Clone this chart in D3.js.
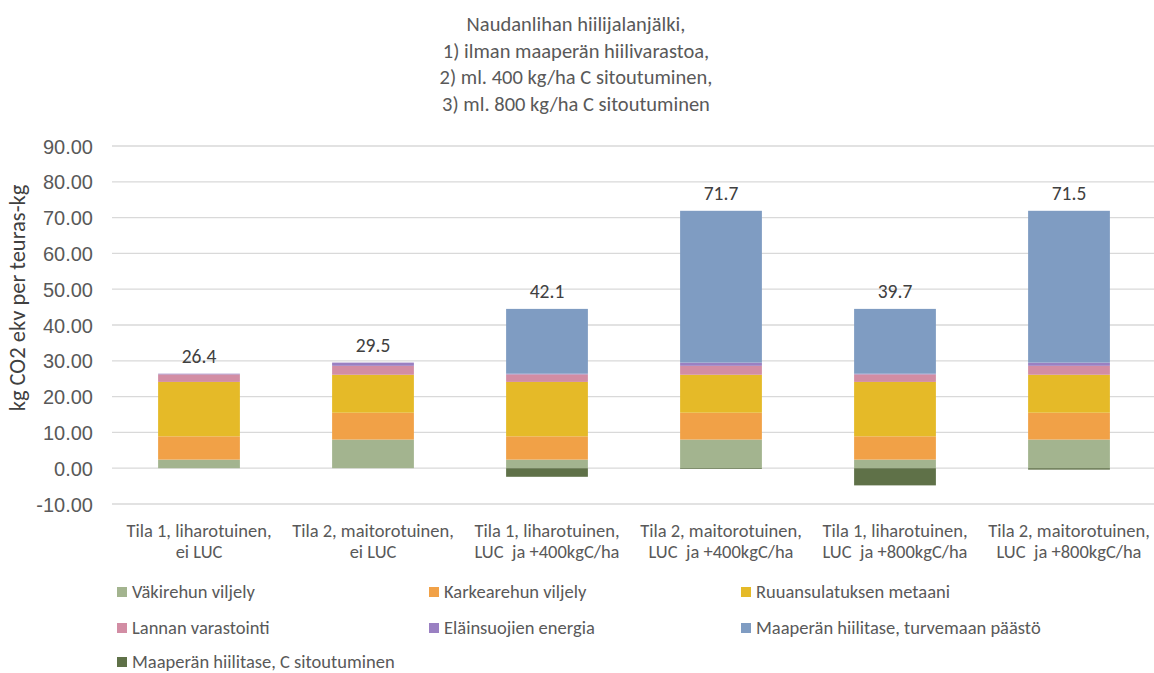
<!DOCTYPE html>
<html>
<head>
<meta charset="utf-8">
<script src="https://cdn.jsdelivr.net/npm/d3@7"></script>
<style>
  body { margin: 0; background: #fff; }
  svg { font-family: Calibri, Carlito, Lato, sans-serif; }
</style>
</head>
<body>
<div id="vis"></div>
<script>
const WIDTH = 1154;
const HEIGHT = 673;

// data
const categories = [
  ["Tila 1, liharotuinen,", "ei LUC"],
  ["Tila 2, maitorotuinen,", "ei LUC"],
  ["Tila 1, liharotuinen,", "LUC  ja +400kgC/ha"],
  ["Tila 2, maitorotuinen,", "LUC  ja +400kgC/ha"],
  ["Tila 1, liharotuinen,", "LUC  ja +800kgC/ha"],
  ["Tila 2, maitorotuinen,", "LUC  ja +800kgC/ha"],
];
const seriesNames = [
  "Väkirehun viljely",
  "Karkearehun viljely",
  "Ruuansulatuksen metaani",
  "Lannan varastointi",
  "Eläinsuojien energia",
  "Maaperän hiilitase, turvemaan päästö",
  "Maaperän hiilitase, C sitoutuminen",
];
const vakirehu = [2.4, 8.0, 2.4, 8.0, 2.4, 8.0];
const karkearehu = [6.5, 7.5, 6.5, 7.5, 6.5, 7.5];
const metaani = [15.2, 10.6, 15.2, 10.6, 15.2, 10.6];
const lanta = [2.1, 2.5, 2.1, 2.5, 2.1, 2.5];
const energia = [0.2, 0.9, 0.2, 0.9, 0.2, 0.9];
const turvemaa = [0, 0, 18.1, 42.4, 18.1, 42.4];
const sitoutuminen = [0, 0, -2.4, -0.2, -4.8, -0.4];
const yTicks = [-10, 0, 10, 20, 30, 40, 50, 60, 70, 80, 90];
const titleLines = [
  "Naudanlihan hiilijalanjälki,",
  "1) ilman maaperän hiilivarastoa,",
  "2) ml. 400 kg/ha C sitoutuminen,",
  "3) ml. 800 kg/ha C sitoutuminen",
];

const colors = ["#A3B48F", "#F1A147", "#E5BA28", "#D28DA4", "#9A80C2", "#7F9CC2", "#5F7148"];
const allSeries = [vakirehu, karkearehu, metaani, lanta, energia, turvemaa, sitoutuminen];

const rows = categories.map((c, i) => {
  const r = { idx: i };
  seriesNames.forEach((s, j) => { r[s] = allSeries[j][i]; });
  return r;
});

const svg = d3.select("#vis").append("svg")
  .attr("width", WIDTH)
  .attr("height", HEIGHT);

const x = d3.scaleBand()
  .domain(d3.range(categories.length))
  .range([112, 1156])
  .paddingInner(0.53)
  .paddingOuter(0.265);

const y = d3.scaleLinear()
  .domain([-10, 90])
  .range([504, 146]);

// gridlines
svg.append("g")
  .selectAll("line")
  .data(yTicks)
  .join("line")
  .attr("x1", 112)
  .attr("x2", WIDTH)
  .attr("y1", d => y(d))
  .attr("y2", d => y(d))
  .attr("stroke", "#D9D9D9")
  .attr("stroke-width", 1.3);

// y axis labels (hyphen minus like Excel)
const yAxis = svg.append("g")
  .attr("transform", "translate(99,0)")
  .call(d3.axisLeft(y).tickValues(yTicks).tickFormat(d => d.toFixed(2)).tickSize(0).tickPadding(6));
yAxis.select(".domain").remove();
yAxis.selectAll("text")
  .attr("font-size", 20)
  .attr("fill", "#595959")
  .attr("font-family", null)
  .attr("dy", "0.35em");

svg.append("text")
  .attr("transform", "translate(25,298) rotate(-90)")
  .attr("text-anchor", "middle")
  .attr("font-size", 22.5)
  .attr("fill", "#404040")
  .text("kg CO2 ekv per teuras-kg");

// stacked bars
const stack = d3.stack()
  .keys(seriesNames)
  .offset(d3.stackOffsetDiverging);
const stacked = stack(rows);

svg.append("g")
  .selectAll("g")
  .data(stacked)
  .join("g")
  .attr("fill", (d, i) => colors[i])
  .selectAll("rect")
  .data(d => d)
  .join("rect")
  .attr("x", d => x(d.data.idx))
  .attr("width", x.bandwidth())
  .attr("y", d => y(Math.max(d[0], d[1])))
  .attr("height", d => Math.abs(y(d[0]) - y(d[1])));

// totals
const positiveTop = rows.map(r => d3.sum(seriesNames, s => Math.max(0, r[s])));
svg.append("g")
  .selectAll("text")
  .data(rows)
  .join("text")
  .attr("x", d => x(d.idx) + x.bandwidth() / 2)
  .attr("y", d => y(positiveTop[d.idx]) - 11)
  .attr("text-anchor", "middle")
  .attr("font-size", 19.5)
  .attr("fill", "#404040")
  .text(d => d3.format(".1f")(d3.sum(seriesNames, s => d[s])));

// category labels
const catG = svg.append("g")
  .selectAll("text")
  .data(categories)
  .join("text")
  .attr("text-anchor", "middle")
  .attr("font-size", 18.5)
  .attr("fill", "#595959")
  .attr("x", (d, i) => x(i) + x.bandwidth() / 2);
catG.selectAll("tspan")
  .data(d => d)
  .join("tspan")
  .attr("x", function () { return d3.select(this.parentNode).attr("x"); })
  .attr("y", (d, i) => 537 + i * 21)
  .attr("xml:space", "preserve")
  .text(d => d);

// title
svg.append("g")
  .selectAll("text")
  .data(titleLines)
  .join("text")
  .attr("x", 576)
  .attr("y", (d, i) => 31 + i * 26.5)
  .attr("text-anchor", "middle")
  .attr("font-size", 20.5)
  .attr("fill", "#595959")
  .text(d => d);

// legend
const legendCols = [117, 429, 741];
const legendRows = [592, 628, 662];
const legend = svg.append("g")
  .selectAll("g")
  .data(seriesNames)
  .join("g")
  .attr("transform", (d, i) => `translate(${legendCols[i % 3]},${legendRows[Math.floor(i / 3)]})`);
legend.append("rect")
  .attr("x", 0)
  .attr("y", -5)
  .attr("width", 10)
  .attr("height", 10)
  .attr("fill", (d, i) => colors[i]);
legend.append("text")
  .attr("x", 15)
  .attr("y", 6)
  .attr("font-size", 18.5)
  .attr("fill", "#595959")
  .text(d => d);
</script>
</body>
</html>
